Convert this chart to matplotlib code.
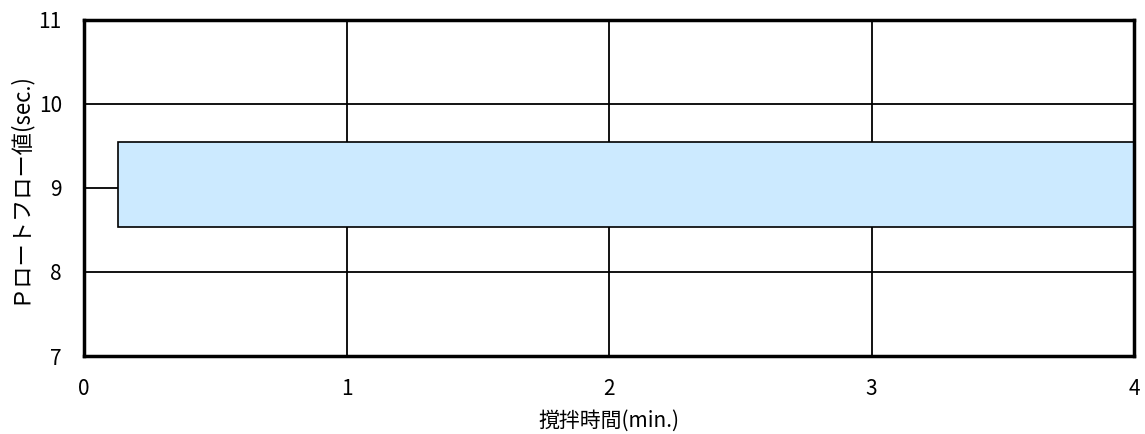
import matplotlib
matplotlib.use('Agg')
import matplotlib.pyplot as plt

plt.rcParams['font.family'] = ['Noto Sans CJK JP', 'DejaVu Sans']

# データ
x_start = [0.13]
x_end = [4.0]
y_low = [8.53]
y_high = [9.55]
x_ticks = [0, 1, 2, 3, 4]
y_ticks = [7, 8, 9, 10, 11]

fig = plt.figure(figsize=(11.45, 4.34), dpi=100)
ax = fig.add_axes([0.0734, 0.1797, 0.917, 0.7743])

widths = [e - s for s, e in zip(x_start, x_end)]
heights = [h - l for l, h in zip(y_low, y_high)]
centers = [(l + h) / 2 for l, h in zip(y_low, y_high)]
ax.barh(centers, widths, height=heights, left=x_start,
        color='#cceaff', edgecolor='black', linewidth=1.2, zorder=3)

ax.set_xlim(0, 4)
ax.set_ylim(7, 11)
ax.set_xticks(x_ticks)
ax.set_yticks(y_ticks)
ax.grid(True, color='black', linewidth=1.3, zorder=1)
ax.set_axisbelow(True)
ax.tick_params(axis='x', length=0, labelsize=15, pad=16)
ax.tick_params(axis='y', length=0, labelsize=15, pad=16)

for sp in ax.spines.values():
    sp.set_linewidth(2.5)
    sp.set_zorder(5)

ax.set_xlabel('撹拌時間(min.)', fontsize=15, labelpad=7)
ax.set_ylabel('Ｐロートフロー値(sec.)', fontsize=16, labelpad=6)

plt.savefig('out.png', dpi=100, facecolor='white')
